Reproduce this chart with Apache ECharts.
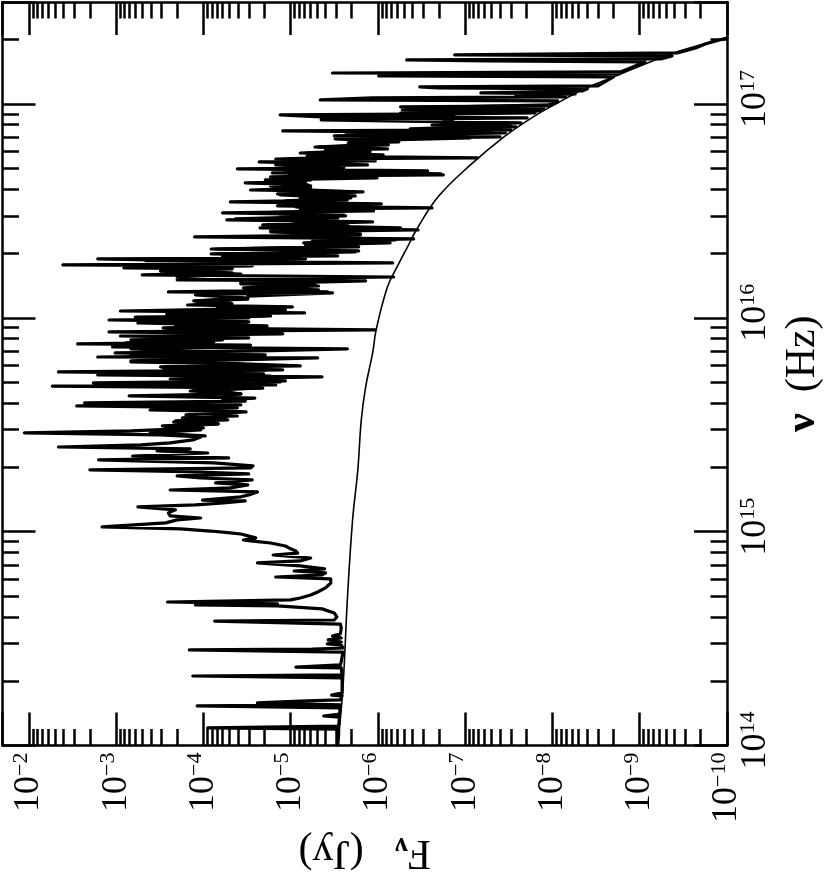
<!DOCTYPE html>
<html><head><meta charset="utf-8">
<style>html,body{margin:0;padding:0;background:#fff}#c{width:830px;height:872px}</style>
<script src="https://cdn.jsdelivr.net/npm/echarts@6/dist/echarts.min.js"></script>
</head><body><div id="c"></div>
<script>
// log10(nu/Hz), log10(F/Jy)
const continuumLog = [[14.002,-5.54],[14.274,-5.60],[14.681,-5.65],[15.055,-5.71],[15.289,-5.77],[15.523,-5.81],[15.677,-5.86],[15.836,-5.94],[15.944,-5.98],[16.145,-6.11],[16.238,-6.22],[16.332,-6.34],[16.411,-6.44],[16.566,-6.69],[16.715,-7.06],[16.842,-7.43],[16.940,-7.78],[17.005,-8.06],[17.066,-8.34],[17.127,-8.70],[17.192,-9.09],[17.239,-9.39],[17.286,-9.78],[17.309,-10]];
const spectrumLog = [[14.002,-5.54],[14.049,-5.55],[14.077,-5.55],[14.082,-4.05],[14.087,-4.05],[14.091,-5.55],[14.133,-5.56],[14.138,-5.38],[14.147,-5.56],[14.176,-5.57],[14.185,-3.93],[14.190,-5.57],[14.199,-4.62],[14.208,-5.11],[14.213,-5.57],[14.232,-5.59],[14.236,-5.47],[14.246,-5.59],[14.316,-5.59],[14.325,-3.88],[14.330,-5.59],[14.363,-5.58],[14.367,-5.06],[14.377,-5.57],[14.391,-5.58],[14.437,-5.60],[14.447,-3.84],[14.451,-5.25],[14.456,-5.60],[14.470,-5.58],[14.475,-5.42],[14.484,-5.58],[14.494,-5.43],[14.503,-5.58],[14.512,-5.48],[14.522,-5.57],[14.550,-5.58],[14.568,-5.57],[14.582,-4.13],[14.587,-5.50],[14.601,-5.53],[14.620,-5.50],[14.639,-5.36],[14.653,-4.85],[14.657,-3.91],[14.662,-4.85],[14.671,-3.59],[14.681,-5.00],[14.690,-5.11],[14.704,-5.23],[14.718,-5.31],[14.737,-5.40],[14.760,-5.46],[14.779,-5.46],[14.788,-4.83],[14.798,-5.36],[14.807,-5.40],[14.816,-5.04],[14.826,-5.39],[14.840,-5.11],[14.854,-4.62],[14.863,-5.11],[14.877,-5.23],[14.891,-4.80],[14.900,-5.08],[14.910,-5.06],[14.924,-4.98],[14.933,-4.94],[14.947,-4.77],[14.957,-4.54],[14.961,-4.46],[14.971,-4.60],[14.980,-4.62],[14.989,-4.43],[14.994,-4.31],[15.003,-4.08],[15.013,-3.74],[15.022,-2.84],[15.031,-2.84],[15.041,-3.57],[15.055,-3.70],[15.064,-3.97],[15.074,-3.62],[15.088,-3.60],[15.102,-3.68],[15.116,-3.25],[15.125,-3.91],[15.134,-4.23],[15.144,-4.48],[15.148,-3.99],[15.163,-4.43],[15.172,-4.52],[15.186,-4.62],[15.195,-3.62],[15.205,-4.31],[15.219,-4.51],[15.228,-4.14],[15.242,-4.56],[15.251,-3.97],[15.261,-3.70],[15.270,-4.52],[15.279,-3.97],[15.289,-2.70],[15.298,-4.54],[15.308,-4.57],[15.322,-4.12],[15.336,-2.80],[15.345,-4.29],[15.354,-3.19],[15.368,-4.05],[15.378,-3.47],[15.387,-3.85],[15.396,-2.34],[15.406,-3.28],[15.415,-3.62],[15.429,-3.88],[15.443,-3.97],[15.453,-3.51],[15.462,-1.95],[15.471,-3.17],[15.485,-4.00],[15.495,-3.53],[15.504,-4.17],[15.513,-3.66],[15.523,-4.28],[15.532,-3.76],[15.541,-4.39],[15.555,-3.85],[15.560,-4.49],[15.569,-3.39],[15.579,-4.39],[15.588,-2.55],[15.593,-4.43],[15.602,-2.64],[15.611,-4.48],[15.616,-4.22],[15.625,-4.59],[15.635,-3.15],[15.644,-4.43],[15.653,-4.29],[15.663,-3.89],[15.672,-4.68],[15.681,-2.27],[15.686,-4.83],[15.696,-2.74],[15.705,-4.94],[15.714,-3.97],[15.724,-5.36],[15.733,-2.79],[15.738,-4.69],[15.747,-2.34],[15.757,-4.91],[15.766,-3.54],[15.775,-5.11],[15.785,-4.45],[15.794,-3.17],[15.803,-4.37],[15.813,-5.31],[15.817,-2.79],[15.827,-4.71],[15.836,-2.99],[15.845,-4.65],[15.855,-5.65],[15.864,-2.96],[15.873,-4.54],[15.878,-2.56],[15.887,-4.12],[15.897,-3.17],[15.906,-4.52],[15.915,-3.05],[15.925,-4.91],[15.934,-2.92],[15.944,-5.97],[15.953,-3.54],[15.962,-4.73],[15.976,-3.25],[15.981,-4.52],[15.990,-2.92],[16.000,-4.52],[16.004,-3.22],[16.009,-4.70],[16.018,-3.58],[16.023,-5.16],[16.032,-3.05],[16.042,-4.43],[16.051,-5.02],[16.060,-3.82],[16.070,-4.31],[16.079,-3.89],[16.088,-4.51],[16.102,-4.51],[16.117,-5.48],[16.121,-3.60],[16.131,-5.32],[16.140,-4.46],[16.154,-5.28],[16.159,-4.43],[16.173,-5.86],[16.178,-3.70],[16.191,-6.18],[16.201,-3.30],[16.210,-4.33],[16.220,-3.51],[16.229,-4.33],[16.234,-3.09],[16.243,-4.56],[16.248,-2.39],[16.257,-6.17],[16.267,-3.34],[16.276,-5.17],[16.285,-4.22],[16.290,-5.54],[16.299,-4.09],[16.313,-5.78],[16.322,-4.09],[16.332,-5.78],[16.341,-5.17],[16.351,-6.14],[16.360,-5.25],[16.369,-6.41],[16.379,-3.90],[16.388,-5.80],[16.402,-4.77],[16.411,-6.46],[16.421,-4.65],[16.430,-5.66],[16.439,-5.03],[16.449,-5.94],[16.458,-4.27],[16.467,-5.54],[16.477,-4.88],[16.481,-5.61],[16.491,-4.22],[16.500,-5.95],[16.510,-5.11],[16.514,-6.62],[16.524,-4.85],[16.533,-6.04],[16.542,-4.31],[16.552,-5.65],[16.561,-5.11],[16.570,-5.74],[16.580,-4.85],[16.589,-5.83],[16.598,-4.54],[16.608,-5.23],[16.617,-4.77],[16.622,-5.20],[16.631,-4.48],[16.636,-5.17],[16.645,-4.71],[16.654,-5.99],[16.664,-4.98],[16.669,-6.75],[16.678,-4.79],[16.687,-6.57],[16.697,-4.39],[16.701,-5.61],[16.711,-5.00],[16.715,-5.88],[16.729,-4.64],[16.734,-5.97],[16.743,-4.96],[16.748,-7.14],[16.757,-5.19],[16.762,-6.06],[16.771,-5.19],[16.776,-5.91],[16.785,-5.40],[16.790,-6.11],[16.799,-5.32],[16.809,-6.12],[16.818,-5.66],[16.823,-6.24],[16.837,-5.51],[16.846,-7.40],[16.851,-5.50],[16.865,-7.46],[16.874,-4.91],[16.879,-7.52],[16.888,-6.81],[16.893,-7.58],[16.902,-6.62],[16.912,-7.64],[16.926,-5.35],[16.935,-7.71],[16.940,-5.35],[16.949,-4.88],[16.954,-6.87],[16.958,-7.80],[16.973,-6.28],[16.977,-7.90],[16.987,-6.26],[16.991,-7.94],[17.015,-8.06],[17.019,-5.34],[17.029,-5.94],[17.033,-8.15],[17.038,-7.58],[17.047,-8.26],[17.052,-7.18],[17.061,-8.34],[17.071,-8.40],[17.075,-6.69],[17.080,-6.48],[17.085,-8.52],[17.127,-8.70],[17.131,-6.01],[17.141,-8.76],[17.145,-5.48],[17.150,-8.78],[17.197,-9.06],[17.202,-7.26],[17.206,-6.33],[17.211,-9.24],[17.225,-9.37],[17.230,-6.88],[17.239,-9.43],[17.262,-9.64],[17.281,-9.75],[17.290,-9.83],[17.309,-10]];
// densely blended lines that read as solid black
const blendedLog = [[15.448,-4.02],[15.462,-3.39],[15.476,-3.97],[15.490,-3.57],[15.504,-4.17],[15.518,-3.68],[15.532,-4.25],[15.546,-3.80],[15.560,-4.43],[15.574,-3.45],[15.588,-4.37],[15.602,-3.80],[15.616,-4.48],[15.630,-4.22],[15.644,-4.43],[15.658,-3.85],[15.672,-4.68],[15.686,-3.85],[15.700,-4.88],[15.714,-3.62],[15.728,-4.77],[15.742,-3.57],[15.757,-4.71],[15.771,-3.51],[15.785,-4.43],[15.799,-3.17],[15.813,-4.37],[15.827,-3.17],[15.841,-4.14],[15.855,-3.17],[15.869,-4.10],[15.883,-3.11],[15.897,-4.22],[15.911,-3.39],[15.925,-4.54],[15.939,-3.57],[15.953,-4.54],[15.967,-3.68],[15.981,-4.51],[15.995,-3.62],[16.009,-4.77],[16.023,-3.97],[16.037,-4.94],[16.051,-4.16],[16.065,-4.33],[16.079,-3.91],[16.093,-4.48],[16.107,-3.91],[16.121,-5.43],[16.135,-4.48],[16.149,-5.32],[16.163,-4.43],[16.177,-4.43],[16.191,-3.70],[16.205,-4.43],[16.220,-3.51],[16.234,-4.33],[16.248,-3.11],[16.262,-4.54],[16.276,-2.79],[16.280,-5.11],[16.294,-4.22],[16.308,-5.74],[16.322,-4.14],[16.336,-5.74],[16.351,-5.15],[16.365,-6.20],[16.379,-5.34],[16.393,-5.80],[16.407,-4.77],[16.421,-6.26],[16.435,-4.68],[16.449,-5.51],[16.463,-4.37],[16.477,-5.63],[16.491,-4.71],[16.505,-5.57],[16.519,-5.06],[16.533,-5.46],[16.547,-4.94],[16.561,-5.69],[16.575,-4.88],[16.589,-5.74],[16.603,-4.88],[16.617,-5.23],[16.631,-4.83],[16.645,-5.23],[16.659,-4.77],[16.673,-6.72],[16.687,-4.94],[16.701,-5.57],[16.715,-4.83],[16.729,-5.63],[16.743,-4.83],[16.757,-5.97],[16.771,-5.11],[16.785,-5.91],[16.799,-5.28],[16.814,-6.09],[16.828,-5.69],[16.842,-7.06],[16.856,-5.63],[16.870,-7.29],[16.884,-6.37],[16.898,-7.52],[16.912,-6.72],[16.930,-6.87],[16.940,-5.36],[16.949,-6.87],[16.958,-6.26],[16.968,-7.86],[16.982,-6.32],[16.996,-7.98]];
const fluxRange = [1e-10, 2e-2];
const nuRange = [1e14, 3e17];
const fluxDecades = [-10,-9,-8,-7,-6,-5,-4,-3];
const nuDecades = [14,15,16,17];
const minorMultiples = [2,3,4,5,6,7,8,9];

const toPoint = ([n,f]) => [Math.pow(10,f), Math.pow(10,n)];
const minorExps = (decades, lo, hi) => {
  const out = [];
  decades.forEach(d => minorMultiples.forEach(m => {
    const v = d + Math.log10(m);
    if (v > lo && v < hi) out.push(v);
  }));
  return out;
};
const serif = '"Liberation Serif"';
const rich = {
  b:{fontFamily:serif,fontSize:36,color:'#000'},
  s:{fontFamily:serif,fontSize:22,color:'#000',verticalAlign:'top',padding:[0,0,16,0]}
};
const richY = {
  b:{...rich.b,padding:[0,0,0,10]},
  s:rich.s
};
const powLabel = v => {
  const p = Math.log10(v);
  if (Math.abs(p - Math.round(p)) > 1e-6) return '';
  const r = Math.round(p);
  return '{b|10}{s|' + (r < 0 ? '\u2212' + (-r) : r) + '}';
};
const line = {show:true,onZero:false,lineStyle:{color:'#000',width:2.5}};
const noLine = {show:false};
const major = {show:true,inside:true,length:33,lineStyle:{color:'#000',width:2.5}};
const minor = vals => ({show:true,inside:true,length:16.5,customValues:vals,lineStyle:{color:'#000',width:2.5}});
const xLo = -10, xHi = Math.log10(fluxRange[1]), yLo = 14, yHi = Math.log10(nuRange[1]);
const xMinorVals = minorExps(fluxDecades, xLo, xHi), yMinorVals = minorExps(nuDecades, yLo, yHi);
const base = {splitLine:{show:false},minorTick:{show:false},minorSplitLine:{show:false}};
const logX = {...base,type:'log',logBase:10,inverse:true,min:fluxRange[0],max:fluxRange[1],interval:1};
const logY = {...base,type:'log',logBase:10,min:nuRange[0],max:nuRange[1],interval:1};
const valX = {...base,type:'value',inverse:true,min:xLo,max:xHi,axisLine:noLine,axisLabel:{show:false},axisTick:minor(xMinorVals),scale:true};
const valY = {...base,type:'value',min:yLo,max:yHi,axisLine:noLine,axisLabel:{show:false},axisTick:minor(yMinorVals),scale:true};
const specLine = {color:'#000',width:3.2,join:'round',cap:'round'};

const chart = echarts.init(document.getElementById('c'));
chart.setOption({
  animation:false,
  backgroundColor:'#fff',
  textStyle:{fontFamily:serif},
  grid:{left:2.5,right:103,top:2,bottom:126.5,containLabel:false,outerBoundsMode:'none'},
  xAxis:[
    {...logX,position:'bottom',axisLine:line,axisTick:major,
     axisLabel:{show:true,rotate:90,margin:7,hideOverlap:false,showMinLabel:true,showMaxLabel:true,formatter:powLabel,rich},
     name:'{m|F}{n|\u03bd}{m|   (Jy)}',nameLocation:'middle',nameGap:70,nameRotate:180,
     nameTextStyle:{rich:{m:{fontFamily:serif,fontSize:42,color:'#000'},n:{fontFamily:serif,fontSize:28,fontWeight:'bold',color:'#000',verticalAlign:'bottom',padding:[14,0,0,0]}}}},
    {...logX,position:'top',axisLine:line,axisTick:major,axisLabel:{show:false}},
    {...valX,position:'bottom'},
    {...valX,position:'top'}
  ],
  yAxis:[
    {...logY,position:'right',axisLine:line,axisTick:major,
     axisLabel:{show:true,rotate:90,margin:10,hideOverlap:false,showMinLabel:true,showMaxLabel:true,formatter:powLabel,rich:richY},
     name:'{n|\u03bd}{m|  (Hz)}',nameLocation:'middle',nameGap:46,nameRotate:90,
     nameTextStyle:{rich:{m:{fontFamily:serif,fontSize:42,color:'#000'},n:{fontFamily:serif,fontSize:42,fontWeight:'bold',color:'#000'}}}},
    {...logY,position:'left',axisLine:line,axisTick:major,axisLabel:{show:false}},
    {...valY,position:'right'},
    {...valY,position:'left'}
  ],
  series:[
    {type:'line',name:'continuum',xAxisIndex:0,yAxisIndex:0,data:continuumLog.map(toPoint),showSymbol:false,symbol:'none',smooth:0.4,
     lineStyle:{color:'#000',width:1.6,join:'round'},silent:true,z:3},
    {type:'line',name:'spectrum',xAxisIndex:0,yAxisIndex:0,data:spectrumLog.map(toPoint),showSymbol:false,symbol:'none',smooth:false,
     lineStyle:specLine,silent:true,z:2},
    {type:'line',name:'blended',xAxisIndex:0,yAxisIndex:0,data:blendedLog.map(toPoint),showSymbol:false,symbol:'none',smooth:false,
     lineStyle:specLine,silent:true,z:2}
  ]
});
</script></body></html>
